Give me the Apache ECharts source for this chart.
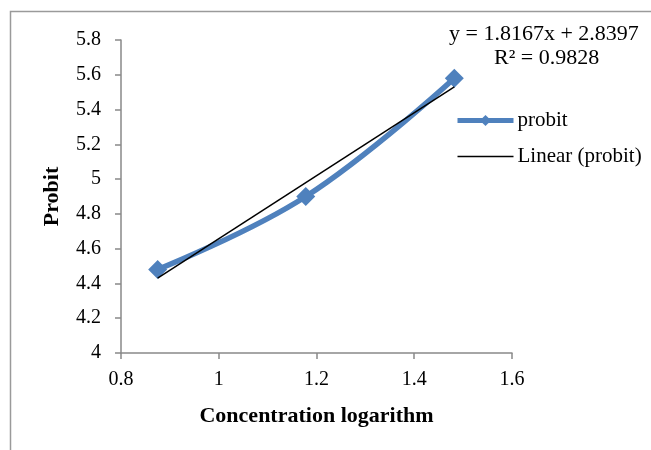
<!DOCTYPE html>
<html><head><meta charset="utf-8">
<script src="https://cdn.jsdelivr.net/npm/echarts@6/dist/echarts.min.js"></script>
<style>html,body{margin:0;padding:0;background:#fff}#c{width:651px;height:450px}</style>
</head><body><div id="c"></div>
<script>
const logConc = [0.875, 1.178, 1.482];
const probit = [4.48, 4.90, 5.58];
const trendX = [0.875, 1.482];
const trendY = [4.43, 5.53];
const xTicks = [0.8, 1.0, 1.2, 1.4, 1.6];
const yTicks = [4.0, 4.2, 4.4, 4.6, 4.8, 5.0, 5.2, 5.4, 5.6, 5.8];
const eqLine1 = 'y = 1.8167x + 2.8397';
const eqLine2 = 'R² = 0.9828';

const font = '"Liberation Serif","Times New Roman",serif';
const chart = echarts.init(document.getElementById('c'), null, {renderer:'canvas'});
chart.setOption({
  animation: false,
  backgroundColor: '#fff',
  textStyle: {fontFamily: font},
  grid: {left: 121, top: 40, right: 139, bottom: 97, containLabel: false},
  xAxis: {
    type: 'value', min: xTicks[0], max: xTicks[xTicks.length-1], interval: 0.2,
    name: 'Concentration logarithm', nameLocation: 'middle', nameGap: 52,
    nameTextStyle: {fontFamily: font, fontSize: 22, fontWeight: 'bold', color: '#000'},
    axisLine: {lineStyle: {color: '#898989', width: 1.5}},
    axisTick: {show: true, inside: false, length: 6, lineStyle: {color: '#898989', width: 1.5}},
    axisLabel: {fontFamily: font, fontSize: 20, color: '#000', margin: 17,
      formatter: v => String(+v.toFixed(1))},
    splitLine: {show: false}
  },
  yAxis: {
    type: 'value', min: yTicks[0], max: yTicks[yTicks.length-1], interval: 0.2,
    name: 'Probit', nameLocation: 'middle', nameGap: 58, nameRotate: 90,
    nameTextStyle: {fontFamily: font, fontSize: 22, fontWeight: 'bold', color: '#000'},
    axisLine: {show: true, lineStyle: {color: '#898989', width: 1.5}},
    axisTick: {show: true, inside: false, length: 6, lineStyle: {color: '#898989', width: 1.5}},
    axisLabel: {fontFamily: font, fontSize: 20, color: '#000', margin: 20,
      formatter: v => String(+v.toFixed(1))},
    splitLine: {show: false}
  },
  legend: {
    orient: 'vertical', left: 455, top: 110, padding: 0, itemGap: 15, itemWidth: 56, itemHeight: 14,
    textStyle: {fontFamily: font, fontSize: 21, color: '#000', padding: [0,0,0,-1]},
    data: [
      {name: 'probit', lineStyle: {width: 5, color: '#4F81BD'}},
      {name: 'Linear (probit)', itemStyle: {opacity: 0}, lineStyle: {width: 1.5, color: '#000'}}
    ]
  },
  series: [
    {
      name: 'probit', type: 'line', smooth: 0.4,
      data: logConc.map((x,i)=>[x, probit[i]]),
      symbol: 'diamond', symbolSize: 19,
      lineStyle: {color: '#4F81BD', width: 5.5},
      itemStyle: {color: '#4F81BD'},
      z: 2
    },
    {
      name: 'Linear (probit)', type: 'line',
      data: trendX.map((x,i)=>[x, trendY[i]]),
      symbol: 'none',
      lineStyle: {color: '#000', width: 1.5},
      itemStyle: {color: '#000'},
      z: 3
    }
  ],
  graphic: [
    {type: 'rect', shape: {x: 10.5, y: 11.5, width: 700, height: 500},
      style: {fill: 'none', stroke: '#9a9a9a', lineWidth: 1.5}, silent: true, z: -1},
    {type: 'text', left: 449, top: 23, style: {text: eqLine1, font: '22px ' + font, fill: '#000'}},
    {type: 'text', left: 494, top: 47, style: {text: eqLine2, font: '22px ' + font, fill: '#000'}}
  ]
});
</script></body></html>
